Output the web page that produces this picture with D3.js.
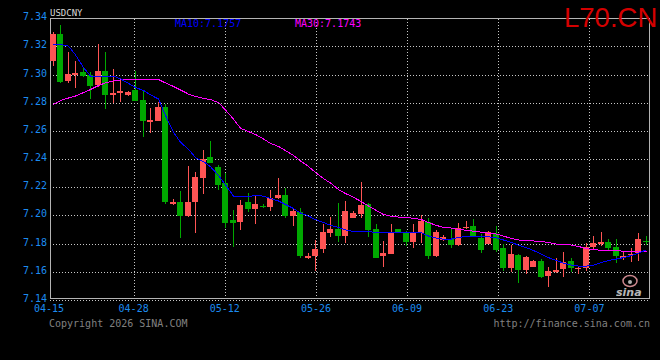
<!DOCTYPE html>
<html>
<head>
<meta charset="utf-8">
<script src="https://cdn.jsdelivr.net/npm/d3@7"></script>
<style>
  html, body { margin:0; padding:0; background:#000; }
  svg { display:block; }
  text { font-family: "DejaVu Sans Mono", monospace; font-size:10px; }
</style>
</head>
<body>
<svg id="kline" width="660" height="360"></svg>
<script>

//---------------- data (USD/CNY daily k-line) ----------------

let opens  = [7.3099,7.3289,7.2957,7.2998,7.3019,7.2998,7.2927,7.3026,7.2853,7.2872,
              7.2856,7.2891,7.2820,7.2666,7.2671,7.2770,7.2082,7.2096,7.1999,7.2098,
              7.2269,7.2415,7.2344,7.2228,7.1968,7.1956,7.2096,7.2046,7.2068,7.2063,
              7.2124,7.2146,7.1999,7.2027,7.1698,7.1715,7.1765,7.1878,7.1907,7.1857,
              7.1985,7.2011,7.2079,7.1904,7.1710,7.1727,7.1904,7.1885,7.1812,7.1876,
              7.1956,7.1715,7.1829,7.1833,7.1791,7.1909,7.1925,7.1838,7.1800,7.1869,
              7.1769,7.1630,7.1720,7.1613,7.1637,7.1677,7.1570,7.1601,7.1620,7.1677,
              7.1618,7.1625,7.1774,7.1795,7.1810,7.1779,7.1701,7.1720,7.1731,7.1821];

let highs  = [7.3305,7.3353,7.3161,7.3097,7.3054,7.3021,7.3218,7.3161,7.3043,7.2962,
              7.2884,7.3026,7.2884,7.2766,7.2804,7.2792,7.2117,7.2174,7.2351,7.2311,
              7.2465,7.2529,7.2359,7.2302,7.2039,7.2110,7.2157,7.2138,7.2082,7.2181,
              7.2266,7.2195,7.2051,7.2051,7.1736,7.1828,7.1942,7.1989,7.2089,7.2103,
              7.2032,7.2240,7.2091,7.1937,7.1817,7.1940,7.1906,7.1890,7.1940,7.2003,
              7.1985,7.1897,7.1862,7.1909,7.1944,7.1961,7.1975,7.1869,7.1890,7.1925,
              7.1800,7.1791,7.1729,7.1715,7.1684,7.1689,7.1637,7.1696,7.1738,7.1696,
              7.1637,7.1802,7.1857,7.1885,7.1833,7.1833,7.1743,7.1767,7.1873,7.1857];

let lows   = [7.3064,7.2943,7.2943,7.2908,7.2983,7.2830,7.2915,7.2756,7.2799,7.2804,
              7.2849,7.2810,7.2560,7.2588,7.2668,7.2082,7.2075,7.1838,7.1987,7.1873,
              7.2155,7.2372,7.2181,7.1909,7.1779,7.1897,7.2023,7.1940,7.2051,7.2034,
              7.2117,7.1985,7.1928,7.1701,7.1693,7.1606,7.1734,7.1850,7.1812,7.1802,
              7.1980,7.1985,7.1850,7.1696,7.1637,7.1724,7.1873,7.1786,7.1772,7.1802,
              7.1689,7.1708,7.1820,7.1772,7.1781,7.1904,7.1850,7.1734,7.1795,7.1739,
              7.1606,7.1597,7.1518,7.1587,7.1632,7.1554,7.1495,7.1589,7.1566,7.1597,
              7.1587,7.1606,7.1755,7.1786,7.1755,7.1660,7.1684,7.1667,7.1679,7.1791];

let closes = [7.3289,7.2950,7.3002,7.3014,7.2991,7.2920,7.3026,7.2858,7.2870,7.2886,
              7.2877,7.2813,7.2671,7.2678,7.2768,7.2096,7.2094,7.1999,7.2096,7.2273,
              7.2399,7.2375,7.2219,7.1949,7.1949,7.2075,7.2049,7.2082,7.2066,7.2127,
              7.2146,7.1996,7.2032,7.1715,7.1710,7.1762,7.1883,7.1907,7.1854,7.2032,
              7.2018,7.2075,7.1899,7.1701,7.1734,7.1885,7.1885,7.1812,7.1885,7.1963,
              7.1715,7.1880,7.1845,7.1791,7.1909,7.1918,7.1857,7.1755,7.1880,7.1755,
              7.1630,7.1727,7.1613,7.1708,7.1677,7.1566,7.1606,7.1611,7.1672,7.1625,
              7.1630,7.1774,7.1805,7.1814,7.1767,7.1715,7.1715,7.1724,7.1833,7.1819];

// moving averages as drawn
let ma10 = [7.3213,7.3215,7.3202,7.3140,7.3050,7.2990,7.2986,7.2988,7.2990,7.2970,
            7.2938,7.2908,7.2888,7.2856,7.2827,7.2710,7.2590,7.2520,7.2470,7.2411,
            7.2382,7.2347,7.2283,7.2217,7.2138,7.2134,7.2134,7.2143,7.2137,7.2120,
            7.2103,7.2078,7.2050,7.2017,7.1996,7.1971,7.1950,7.1930,7.1915,7.1898,
            7.1886,7.1885,7.1885,7.1880,7.1879,7.1880,7.1880,7.1879,7.1878,7.1878,
            7.1854,7.1840,7.1831,7.1833,7.1844,7.1851,7.1851,7.1852,7.1849,7.1841,
            7.1826,7.1808,7.1790,7.1771,7.1751,7.1726,7.1701,7.1680,7.1662,7.1648,
            7.1641,7.1641,7.1647,7.1666,7.1680,7.1691,7.1701,7.1716,7.1733,7.1757];

let ma30 = [7.2788,7.2816,7.2834,7.2848,7.2873,7.2894,7.2923,7.2941,7.2955,7.2962,
            7.2965,7.2967,7.2967,7.2967,7.2965,7.2941,7.2916,7.2891,7.2862,7.2845,
            7.2831,7.2823,7.2802,7.2749,7.2685,7.2619,7.2596,7.2575,7.2543,7.2512,
            7.2490,7.2461,7.2426,7.2387,7.2348,7.2305,7.2262,7.2231,7.2184,7.2156,
            7.2129,7.2098,7.2067,7.2035,7.2007,7.1994,7.1989,7.1986,7.1980,7.1971,
            7.1950,7.1929,7.1916,7.1911,7.1902,7.1895,7.1888,7.1881,7.1874,7.1868,
            7.1854,7.1836,7.1826,7.1822,7.1819,7.1815,7.1808,7.1797,7.1794,7.1790,
            7.1780,7.1765,7.1758,7.1753,7.1751,7.1749,7.1747,7.1745,7.1743,7.1743];

let priceTicks = [7.14,7.16,7.18,7.20,7.22,7.24,7.26,7.28,7.30,7.32,7.34];
let dateTicks  = ["04-15","04-28","05-12","05-26","06-09","06-23","07-07"];
let dateSpan   = ["2026-04-15","2026-07-16"];


//---------------- scales ----------------

let svg = d3.select('#kline');
let fmt = d3.format(".2f");
let px = v => Math.round(v) + 0.5;

let y = d3.scaleLinear().domain([7.14, 7.34]).range([300, 18.3]);

let x = d3.scaleBand()
          .domain(d3.range(closes.length))
          .range([49, 649.5])
          .paddingInner(0.2)
          .paddingOuter(0.1);

let parse = d3.timeParse("%Y-%m-%d");
let t = d3.scaleTime()
          .domain(dateSpan.map(parse))
          .range([49, 648]);

svg.append("rect").attr("width", 660).attr("height", 360).attr("fill", "#000");


//---------------- grid ----------------

let grid = svg.append("g")
              .attr("stroke", "#c8c8c8")
              .attr("stroke-dasharray", "1,2")
              .attr("shape-rendering", "crispEdges");

grid.selectAll(".hgrid")
    .data(priceTicks)
    .enter().append("line")
    .attr("class", "hgrid")
    .attr("x1", 50).attr("x2", 650)
    .attr("y1", d => px(y(d))).attr("y2", d => px(y(d)));

grid.selectAll(".vgrid")
    .data(dateTicks.slice(1))
    .enter().append("line")
    .attr("class", "vgrid")
    .attr("x1", d => px(t(parse("2026-" + d)))).attr("x2", d => px(t(parse("2026-" + d))))
    .attr("y1", 18.5).attr("y2", 300);

// frame
svg.append("path")
   .attr("d", "M50.5,298.5V18.5H649.5V298.5H50.5")
   .attr("fill", "none")
   .attr("stroke", "#b4b4b4")
   .attr("shape-rendering", "crispEdges");


//---------------- candles ----------------

let candles = d3.range(closes.length).map(i => ({
  i: i, o: opens[i], h: highs[i], l: lows[i], c: closes[i]
}));

let upColor = "#ff5454", downColor = "#00a800";

let k = svg.append("g").attr("shape-rendering", "crispEdges");

let bar = k.selectAll(".candle")
           .data(candles)
           .enter().append("g")
           .attr("class", "candle")
           .attr("fill", d => d.c >= d.o ? upColor : downColor)
           .attr("stroke", d => d.c >= d.o ? upColor : downColor);

bar.append("line")
   .attr("x1", d => Math.round(x(d.i)) + 3.5)
   .attr("x2", d => Math.round(x(d.i)) + 3.5)
   .attr("y1", d => Math.round(y(d.h)))
   .attr("y2", d => Math.round(y(d.l)));

bar.append("rect")
   .attr("stroke", "none")
   .attr("x", d => Math.round(x(d.i)))
   .attr("width", Math.round(x.bandwidth()))
   .attr("y", d => Math.round(y(Math.max(d.o, d.c))))
   .attr("height", d => Math.max(1, Math.round(y(Math.min(d.o, d.c))) - Math.round(y(Math.max(d.o, d.c)))));


//---------------- moving averages ----------------

let maLine = d3.line()
               .x((d, i) => Math.round(x(i)) + 3.5)
               .y(d => y(d));

svg.append("path").datum(ma30)
   .attr("d", maLine)
   .attr("fill", "none")
   .attr("stroke", "#ff00ff")
   .attr("stroke-width", 1)
   .attr("shape-rendering", "crispEdges");

svg.append("path").datum(ma10)
   .attr("d", maLine)
   .attr("fill", "none")
   .attr("stroke", "#0000ff")
   .attr("stroke-width", 1)
   .attr("shape-rendering", "crispEdges");


//---------------- labels ----------------

svg.selectAll(".ylab")
   .data(priceTicks)
   .enter().append("text")
   .attr("class", "ylab")
   .attr("x", 47)
   .attr("y", d => y(d) + 2)
   .attr("text-anchor", "end")
   .attr("fill", "#1c8cf0")
   .text(d => fmt(d));

svg.selectAll(".xlab")
   .data(dateTicks)
   .enter().append("text")
   .attr("class", "xlab")
   .attr("x", d => t(parse("2026-" + d)))
   .attr("y", 311.5)
   .attr("text-anchor", "middle")
   .attr("fill", "#1c8cf0")
   .text(d => d);

svg.append("text").attr("x", 50).attr("y", 15.5)
   .attr("fill", "#d8d8d8").style("font-size", "9px")
   .text("USDCNY");

svg.append("text").attr("x", 175).attr("y", 27.3)
   .attr("fill", "#0000ff")
   .text("MA10:" + d3.format(".4f")(ma10[ma10.length - 1]));

svg.append("text").attr("x", 295).attr("y", 27.3)
   .attr("fill", "#ff00ff")
   .text("MA30:" + d3.format(".4f")(ma30[ma30.length - 1]));

svg.append("text").attr("x", 49).attr("y", 326.5)
   .attr("fill", "#808080")
   .text("Copyright 2026 SINA.COM");

svg.append("text").attr("x", 650).attr("y", 326.5)
   .attr("text-anchor", "end")
   .attr("fill", "#808080")
   .text("http://finance.sina.com.cn");

svg.append("text").attr("x", 564).attr("y", 27.3)
   .attr("fill", "#d40000")
   .style("font-family", "'Liberation Sans', Arial, sans-serif")
   .style("font-size", "27.5px")
   .text("L70.CN");

// sina logo
let logo = svg.append("g").attr("opacity", 0.85);
logo.append("ellipse")
    .attr("cx", 630).attr("cy", 281).attr("rx", 7).attr("ry", 5.5)
    .attr("fill", "none").attr("stroke", "#f0a0a8").attr("stroke-width", 1.5);
logo.append("circle")
    .attr("cx", 630).attr("cy", 282).attr("r", 2)
    .attr("fill", "#d0d0d0");
logo.append("text").attr("x", 616).attr("y", 296)
    .attr("fill", "#d8d8d8")
    .style("font-family", "'DejaVu Sans', sans-serif")
    .style("font-size", "11px").style("font-weight", "bold").style("font-style", "italic")
    .text("sina");

</script>
</body>
</html>
